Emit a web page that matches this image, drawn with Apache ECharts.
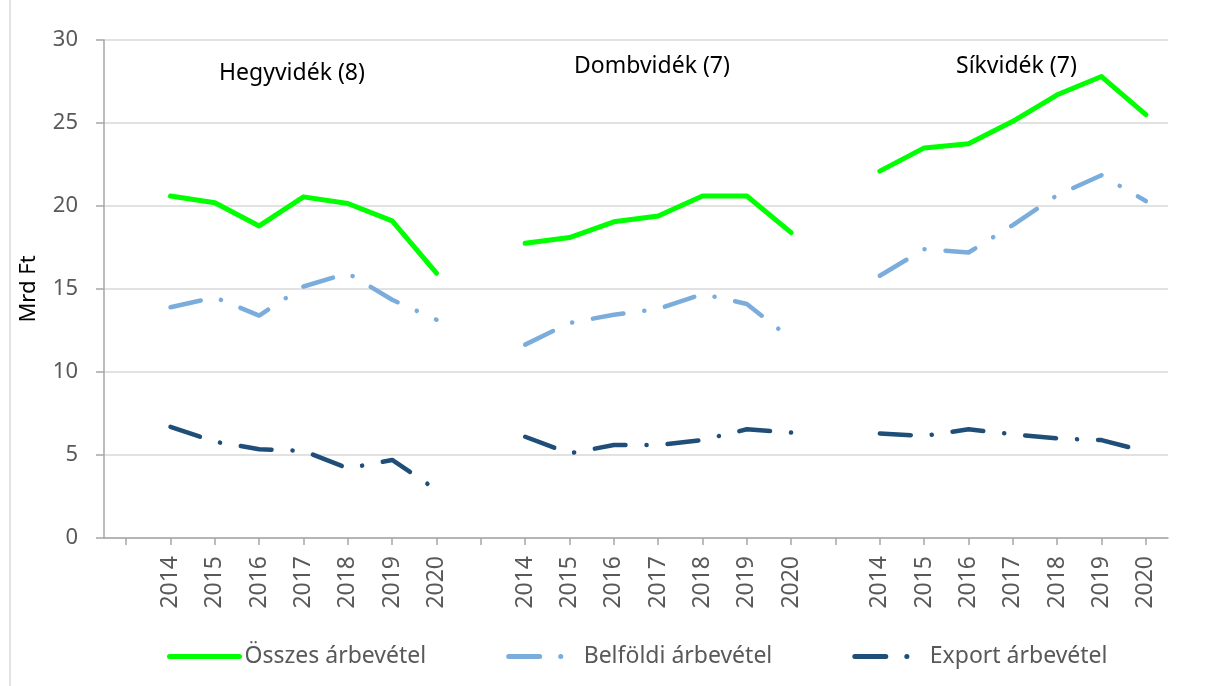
<!DOCTYPE html>
<html>
<head>
<meta charset="utf-8">
<script src="https://cdn.jsdelivr.net/npm/echarts@6/dist/echarts.min.js"></script>
<style>
  html, body { margin: 0; padding: 0; background: #fff; }
  #chart { width: 1215px; height: 686px; }
</style>
</head>
<body>
<div id="chart"></div>
<script>
// categories: 3 regions x 7 years, with a blank slot in front of each region
var years = ['2014', '2015', '2016', '2017', '2018', '2019', '2020'];
var regions = ['Hegyvidék (8)', 'Dombvidék (7)', 'Síkvidék (7)'];

var osszes = [
    null, 20.6, 20.2, 18.8, 20.55, 20.15, 19.1, 15.95,
    null, 17.75, 18.1, 19.05, 19.4, 20.6, 20.6, 18.4,
    null, 22.1, 23.5, 23.75, 25.1, 26.7, 27.8, 25.5
];
var belfoldi = [
    null, 13.9, 14.5, 13.4, 15.15, 15.95, 14.35, 13.15,
    null, 11.65, 12.95, 13.45, 13.8, 14.7, 14.1, 12.0,
    null, 15.8, 17.4, 17.2, 18.85, 20.65, 21.85, 20.3
];
var exportArb = [
    null, 6.7, 5.8, 5.35, 5.25, 4.2, 4.7, 2.9,
    null, 6.1, 5.1, 5.6, 5.6, 5.9, 6.55, 6.35,
    null, 6.3, 6.15, 6.55, 6.25, 6.0, 5.9, 5.2
];

var categories = [];
regions.forEach(function () {
    categories.push('');
    years.forEach(function (y) { categories.push(y); });
});

var font = 'Noto Sans';
var dashDot = [31, 21, 0.1, 21];

var myChart = echarts.init(document.getElementById('chart'));
var option = {
    animation: false,
    backgroundColor: '#fff',
    textStyle: { fontFamily: font },
    grid: { left: 104, right: 47, top: 40, bottom: 148 },
    title: [
        { text: regions[0], left: 219, top: 62 },
        { text: regions[1], left: 574, top: 55 },
        { text: regions[2], left: 956, top: 55 }
    ].map(function (t) {
        t.textStyle = { fontFamily: font, fontSize: 23, fontWeight: 'normal', color: '#000' };
        t.padding = 0;
        return t;
    }),
    legend: {
        left: 162,
        top: 640,
        itemWidth: 70,
        itemHeight: 14,
        itemGap: 80,
        itemStyle: { color: 'rgba(0,0,0,0)', borderWidth: 0 },
        lineStyle: { width: 5, cap: 'round' },
        textStyle: { fontFamily: font, fontSize: 23, color: '#595959' },
        data: ['Összes árbevétel', 'Belföldi árbevétel', 'Export árbevétel']
    },
    xAxis: {
        type: 'category',
        data: categories,
        boundaryGap: true,
        axisLine: { lineStyle: { color: '#a6a6a6', width: 1.5 } },
        axisTick: { show: true, alignWithLabel: true, length: 7, lineStyle: { color: '#a6a6a6', width: 1.5 } },
        axisLabel: {
            interval: 0,
            rotate: 90,
            margin: 18,
            fontFamily: font,
            fontSize: 23,
            color: '#595959'
        }
    },
    yAxis: {
        type: 'value',
        min: 0,
        max: 30,
        interval: 5,
        name: 'Mrd Ft',
        nameLocation: 'middle',
        nameGap: 64,
        nameTextStyle: { fontFamily: font, fontSize: 22, color: '#000' },
        axisLine: { show: true, lineStyle: { color: '#a6a6a6', width: 1.5 } },
        axisTick: { show: true, length: 8, lineStyle: { color: '#a6a6a6', width: 1.5 } },
        axisLabel: { margin: 26, fontFamily: font, fontSize: 22, color: '#595959' },
        splitLine: { lineStyle: { color: '#d9d9d9', width: 1.5 } }
    },
    graphic: [{
        type: 'line',
        shape: { x1: 10, y1: 0, x2: 10, y2: 686 },
        style: { stroke: '#d9d9d9', lineWidth: 1.5 }
    }],
    series: [{
        name: 'Összes árbevétel',
        type: 'line',
        data: osszes,
        symbol: 'none',
        color: '#00ff00',
        lineStyle: { width: 5, color: '#00ff00', cap: 'round', join: 'round' }
    }, {
        name: 'Belföldi árbevétel',
        type: 'line',
        data: belfoldi,
        symbol: 'none',
        color: '#7aacdc',
        lineStyle: { width: 4.5, color: '#7aacdc', type: dashDot, cap: 'round', join: 'round' }
    }, {
        name: 'Export árbevétel',
        type: 'line',
        data: exportArb,
        symbol: 'none',
        color: '#1f4e79',
        lineStyle: { width: 4.5, color: '#1f4e79', type: dashDot, cap: 'round', join: 'round' }
    }]
};
myChart.setOption(option);
</script>
</body>
</html>
